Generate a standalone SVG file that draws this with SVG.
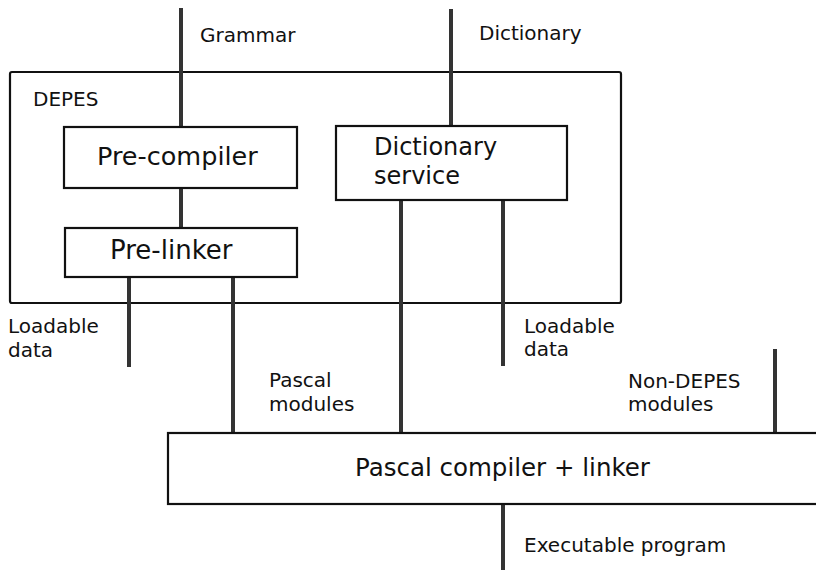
<svg xmlns="http://www.w3.org/2000/svg" width="816" height="570" viewBox="0 0 816 570">
<style>
.box{fill:none;stroke:#111;stroke-width:2.2}
.node{fill:#fff;stroke:#111;stroke-width:2.2}
.wire{stroke:#333;stroke-width:4;fill:none}
.lbl{font-family:"DejaVu Sans",sans-serif;font-size:20px;fill:#111}
.big{font-family:"DejaVu Sans",sans-serif;font-size:24.5px;fill:#111}
</style>
<rect width="816" height="570" fill="#fff"/>
<g id="depes">
<rect class="box" x="10" y="72" width="611" height="231" rx="2"/>
<text class="lbl" x="33" y="106">DEPES</text>
</g>
<g id="connectors">
<line class="wire" x1="181" y1="8" x2="181" y2="127"/>
<line class="wire" x1="181" y1="188" x2="181" y2="228"/>
<line class="wire" x1="129" y1="277" x2="129" y2="367"/>
<line class="wire" x1="233" y1="277" x2="233" y2="433"/>
<line class="wire" x1="451" y1="9" x2="451" y2="126"/>
<line class="wire" x1="401" y1="200" x2="401" y2="433"/>
<line class="wire" x1="503" y1="200" x2="503" y2="366"/>
<line class="wire" x1="775" y1="349" x2="775" y2="433"/>
<line class="wire" x1="503" y1="504" x2="503" y2="570"/>
</g>
<g id="precompiler">
<rect class="node" x="64" y="127" width="233" height="61"/>
<text class="big" x="97" y="165" style="font-size:25.5px">Pre-compiler</text>
</g>
<g id="prelinker">
<rect class="node" x="65" y="228" width="232" height="49"/>
<text class="big" x="110" y="259" style="font-size:26px">Pre-linker</text>
</g>
<g id="dictservice">
<rect class="node" x="336" y="126" width="231" height="74"/>
<text class="big" x="374" y="155" style="font-size:24px">Dictionary</text>
<text class="big" x="374" y="184" style="font-size:24px">service</text>
</g>
<g id="pascal">
<rect class="node" x="168" y="433" width="670" height="71"/>
<text class="big" x="355" y="476">Pascal compiler + linker</text>
</g>
<g id="labels">
<text class="lbl" x="200" y="42">Grammar</text>
<text class="lbl" x="479" y="40">Dictionary</text>
<text class="lbl" x="8" y="333">Loadable</text>
<text class="lbl" x="8" y="357">data</text>
<text class="lbl" x="269" y="387">Pascal</text>
<text class="lbl" x="269" y="411">modules</text>
<text class="lbl" x="524" y="333">Loadable</text>
<text class="lbl" x="524" y="356">data</text>
<text class="lbl" x="628" y="388">Non-DEPES</text>
<text class="lbl" x="628" y="411">modules</text>
<text class="lbl" x="524" y="552">Executable program</text>
</g>
</svg>
